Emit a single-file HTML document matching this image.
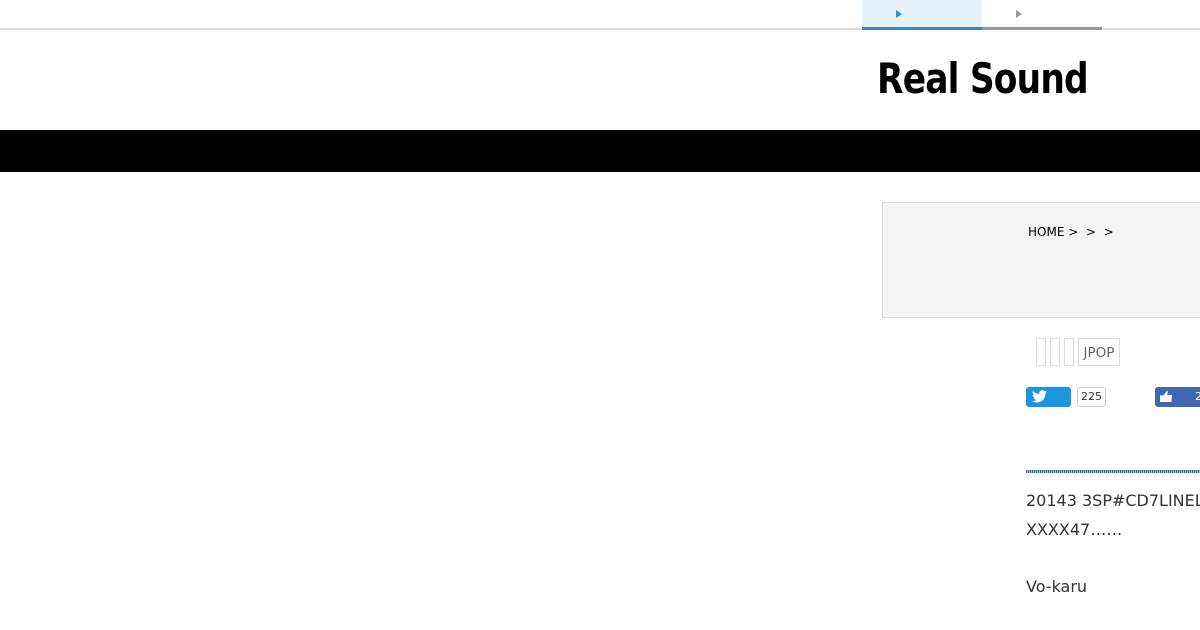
<!DOCTYPE html>
<html><head><meta charset="utf-8"><style>
*{margin:0;padding:0;box-sizing:border-box}
body{width:1200px;height:630px;overflow:hidden;background:#fff;font-family:"DejaVu Sans","Liberation Sans",sans-serif;position:relative}
.a{position:absolute}
</style></head><body>
<div class="a" style="left:0;top:28px;width:1200px;height:2px;background:#ddd"></div>
<div class="a" style="left:862px;top:0;width:120px;height:28px;background:#e8f2fc"></div>
<div class="a" style="left:862px;top:27px;width:120px;height:3px;background:#3a86d0"></div>
<div class="a" style="left:982px;top:27px;width:120px;height:3px;background:#999"></div>
<div class="a" style="left:896px;top:10px;width:0;height:0;border-left:6px solid #3a86d0;border-top:4px solid transparent;border-bottom:4px solid transparent"></div>
<div class="a" style="left:1016px;top:10px;width:0;height:0;border-left:6px solid #999;border-top:4px solid transparent;border-bottom:4px solid transparent"></div>
<div class="a" style="left:877px;top:54px;font-family:'DejaVu Sans',sans-serif;font-weight:bold;font-size:42px;color:#000;letter-spacing:-1px;transform:scaleX(0.82);transform-origin:left;white-space:nowrap">Real Sound</div>
<div class="a" style="left:0;top:130px;width:1200px;height:42px;background:#000"></div>
<div class="a" style="left:882px;top:202px;width:330px;height:116px;background:#f4f4f4;border:1px solid #ddd"></div>
<div class="a" style="left:1028px;top:225px;font-size:12px;color:#000">HOME &gt;&nbsp; &gt;&nbsp; &gt;</div>
<div class="a" style="left:1036px;top:338px;width:10px;height:28px;border:1px solid #ddd"></div>
<div class="a" style="left:1050px;top:338px;width:10px;height:28px;border:1px solid #ddd"></div>
<div class="a" style="left:1064px;top:338px;width:10px;height:28px;border:1px solid #ddd"></div>
<div class="a" style="left:1078px;top:338px;width:42px;height:28px;border:1px solid #ddd;color:#666;font-size:13.5px;line-height:28px;text-align:center">JPOP</div>
<div class="a" style="left:1026px;top:387px;width:45px;height:20px;background:#1b95e0;border-radius:3px;color:#fff;font-size:14px;line-height:20px;padding-left:6px">
<svg width="15" height="13" viewBox="0 0 24 20" style="margin-top:3px"><path fill="#fff" d="M24 2.4a10 10 0 0 1-2.8.8A5 5 0 0 0 23.3.4a10 10 0 0 1-3.1 1.2A4.9 4.9 0 0 0 11.8 6 14 14 0 0 1 1.7.9a4.9 4.9 0 0 0 1.5 6.6A4.9 4.9 0 0 1 1 6.9a4.9 4.9 0 0 0 3.9 4.8 5 5 0 0 1-2.2.1 4.9 4.9 0 0 0 4.6 3.4A9.9 9.9 0 0 1 0 17.3 14 14 0 0 0 7.5 19.5c9.1 0 14-7.5 14-14v-.6A10 10 0 0 0 24 2.4z"/></svg></div>
<div class="a" style="left:1077px;top:387px;width:29px;height:20px;border:1px solid #ccc;border-radius:3px;font-size:11px;line-height:18px;text-align:center;color:#333">225</div>
<div class="a" style="left:1155px;top:387px;width:60px;height:20px;background:#4267b2;border-radius:3px;color:#fff;font-size:11px;line-height:20px;padding-left:40px">2</div>
<div class="a" style="left:1160px;top:391px;width:12px;height:11px;background:#fff;clip-path:polygon(0 40%,25% 40%,25% 100%,0 100%,0 40%,30% 40%,55% 0,65% 5%,60% 35%,100% 35%,95% 100%,30% 100%)"></div>
<div class="a" style="left:1026px;top:470px;width:180px;height:3px;background:repeating-linear-gradient(90deg,#2a6f9a 0 1px,#9cc3d8 1px 2px)"></div>
<div class="a" style="left:1026px;top:487px;font-size:16px;line-height:28.7px;color:#333;white-space:nowrap">20143 3SP#CD7LINEL<br>XXXX47……<br><br>Vo-karu</div>
</body></html>
